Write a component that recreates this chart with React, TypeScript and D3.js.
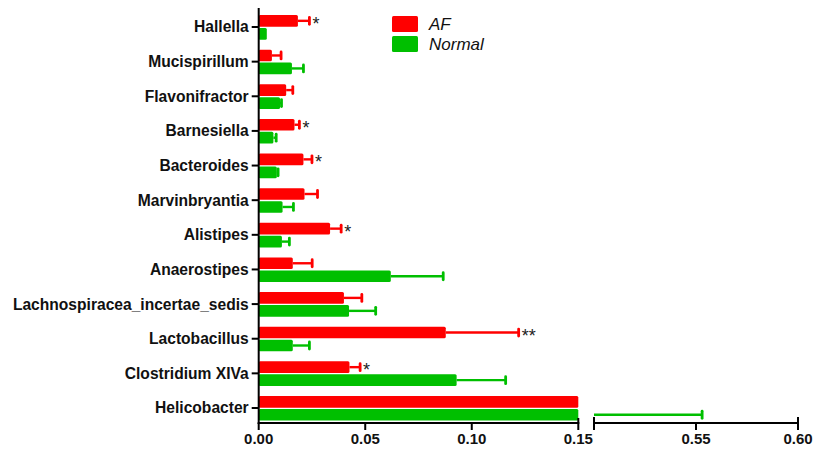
import React from "react";
import * as d3 from "d3";

const width = 813;
const height = 452;

const categories = [
  "Hallella",
  "Mucispirillum",
  "Flavonifractor",
  "Barnesiella",
  "Bacteroides",
  "Marvinbryantia",
  "Alistipes",
  "Anaerostipes",
  "Lachnospiracea_incertae_sedis",
  "Lactobacillus",
  "Clostridium XIVa",
  "Helicobacter",
];
const groups = ["AF", "Normal"];
const afMean = [0.0184, 0.0062, 0.0129, 0.0168, 0.021, 0.0215, 0.0335, 0.016, 0.04, 0.0878, 0.0426, 0.25];
const afSem = [0.0054, 0.0043, 0.0031, 0.0023, 0.004, 0.0061, 0.0052, 0.0091, 0.0084, 0.0342, 0.005, 0.1];
const normalMean = [0.0038, 0.0156, 0.01, 0.0069, 0.0085, 0.0112, 0.0109, 0.062, 0.0424, 0.016, 0.0929, 0.45];
const normalSem = [0, 0.0054, 0.0007, 0.0013, 0.0006, 0.0051, 0.0035, 0.0246, 0.0125, 0.0078, 0.023, 0.103];
const signif = ["*", "", "", "*", "*", "", "*", "", "", "**", "*", ""];

const ticksLeft = [0, 0.05, 0.1, 0.15];
const ticksRight = [0.55, 0.6];

const colors = { AF: "#ff0000", Normal: "#00bf00" };

// broken x axis: two segments
const x1 = d3.scaleLinear().domain([0, 0.15]).range([258.7, 578.3]);
const x2 = d3.scaleLinear().domain([0.5, 0.6]).range([594, 798]);
const axisY = 423;

const y = d3.scaleBand().domain(categories).range([10, 425.6]).padding(0);
const ySub = d3
  .scaleBand()
  .domain(groups)
  .range([5, y.step() - 5])
  .paddingInner(0.1);

const fmt = d3.format(".2f");
const font = "'Liberation Sans', Arial, sans-serif";

type Row = { cat: string; group: string; mean: number; sem: number; sig: string };

const rows: Row[] = [];
categories.forEach((c, i) => {
  rows.push({ cat: c, group: "AF", mean: afMean[i], sem: afSem[i], sig: signif[i] });
  rows.push({ cat: c, group: "Normal", mean: normalMean[i], sem: normalSem[i], sig: "" });
});

const Bar = ({ d }: { d: Row }) => {
  const top = (y(d.cat) as number) + (ySub(d.group) as number);
  const h = ySub.bandwidth();
  const cy = top + h / 2;
  const col = colors[d.group as "AF" | "Normal"];
  const end = d.mean + d.sem;
  const parts: JSX.Element[] = [];

  // bar
  parts.push(
    <rect key="b1" x={x1(0)} y={top} width={x1(Math.min(d.mean, 0.15)) - x1(0)} height={h} fill={col} rx={1.5} />
  );
  if (d.mean > 0.5) {
    parts.push(
      <rect key="b2" x={x2(0.5)} y={top} width={x2(Math.min(d.mean, 0.6)) - x2(0.5)} height={h} fill={col} />
    );
  }

  let capX: number | null = null;
  if (d.sem > 0) {
    if (d.mean < 0.15) {
      const a = x1(d.mean);
      const b = x1(Math.min(end, 0.15));
      parts.push(<line key="e1" x1={a} x2={b} y1={cy} y2={cy} stroke={col} strokeWidth={2.4} />);
      if (end <= 0.15) capX = b;
    }
    if (end > 0.5) {
      const a = x2(Math.max(d.mean, 0.5));
      const b = x2(Math.min(end, 0.6));
      parts.push(<line key="e2" x1={a} x2={b} y1={cy} y2={cy} stroke={col} strokeWidth={2.4} />);
      capX = b;
    }
    if (capX !== null) {
      parts.push(
        <line key="cap" x1={capX} x2={capX} y1={cy - 3.5} y2={cy + 3.5} stroke={col} strokeWidth={2.8} strokeLinecap="round" />
      );
    }
  }

  if (d.sig) {
    const sx = (capX !== null ? capX : x1(Math.min(d.mean, 0.15))) + 3;
    parts.push(
      <text key="s" x={sx} y={cy + 9} fontFamily={font} fontSize={18} fill="#222">
        {d.sig}
      </text>
    );
  }
  return <g>{parts}</g>;
};

const App = () => {
  return (
    <svg
      width={width}
      height={height}
      style={{ position: "absolute", left: 0, top: 0, background: "#fff" }}
    >
      {/* bars */}
      {rows.map((d, i) => (
        <Bar key={i} d={d} />
      ))}

      {/* y axis */}
      <line x1={x1(0)} x2={x1(0)} y1={8} y2={axisY + 1} stroke="#000" strokeWidth={2} />
      {categories.map((c) => {
        const cy = (y(c) as number) + y.step() / 2 - 0.3;
        return (
          <g key={c}>
            <line x1={x1(0) - 7} x2={x1(0)} y1={cy} y2={cy} stroke="#000" strokeWidth={2} />
            <text
              x={x1(0) - 10}
              y={cy}
              dy="0.35em"
              textAnchor="end"
              fontFamily={font}
              fontWeight="bold"
              fontSize={15.6}
              fill="#111"
            >
              {c}
            </text>
          </g>
        );
      })}

      {/* x axis, left segment */}
      <line x1={x1(0) - 1} x2={x1(0.15) + 1} y1={axisY} y2={axisY} stroke="#000" strokeWidth={2} />
      {ticksLeft.map((t) => (
        <g key={t}>
          <line
            x1={x1(t)}
            x2={x1(t)}
            y1={t === 0.15 ? axisY - 5 : axisY}
            y2={axisY + 7}
            stroke="#000"
            strokeWidth={2}
          />
          <text x={x1(t)} y={444} textAnchor="middle" fontFamily={font} fontWeight="bold" fontSize={15} fill="#111">
            {fmt(t)}
          </text>
        </g>
      ))}

      {/* x axis, right segment */}
      <line x1={x2(0.5)} x2={x2(0.6)} y1={axisY} y2={axisY} stroke="#000" strokeWidth={2} />
      <line x1={x2(0.5)} x2={x2(0.5)} y1={axisY - 6} y2={axisY + 7} stroke="#000" strokeWidth={2} />
      {ticksRight.map((t) => (
        <g key={t}>
          <line
            x1={x2(t)}
            x2={x2(t)}
            y1={t === 0.6 ? axisY - 6 : axisY}
            y2={axisY + 7}
            stroke="#000"
            strokeWidth={2}
          />
          <text x={x2(t)} y={444} textAnchor="middle" fontFamily={font} fontWeight="bold" fontSize={15} fill="#111">
            {fmt(t)}
          </text>
        </g>
      ))}

      {/* legend */}
      {groups.map((g, i) => (
        <g key={g} transform={`translate(392,${16 + i * 20})`}>
          <rect width={26} height={16} rx={1.5} fill={colors[g as "AF" | "Normal"]} />
          <text x={37} y={14} fontFamily={font} fontStyle="italic" fontSize={17} fill="#111">
            {g}
          </text>
        </g>
      ))}
    </svg>
  );
};

export default App;
